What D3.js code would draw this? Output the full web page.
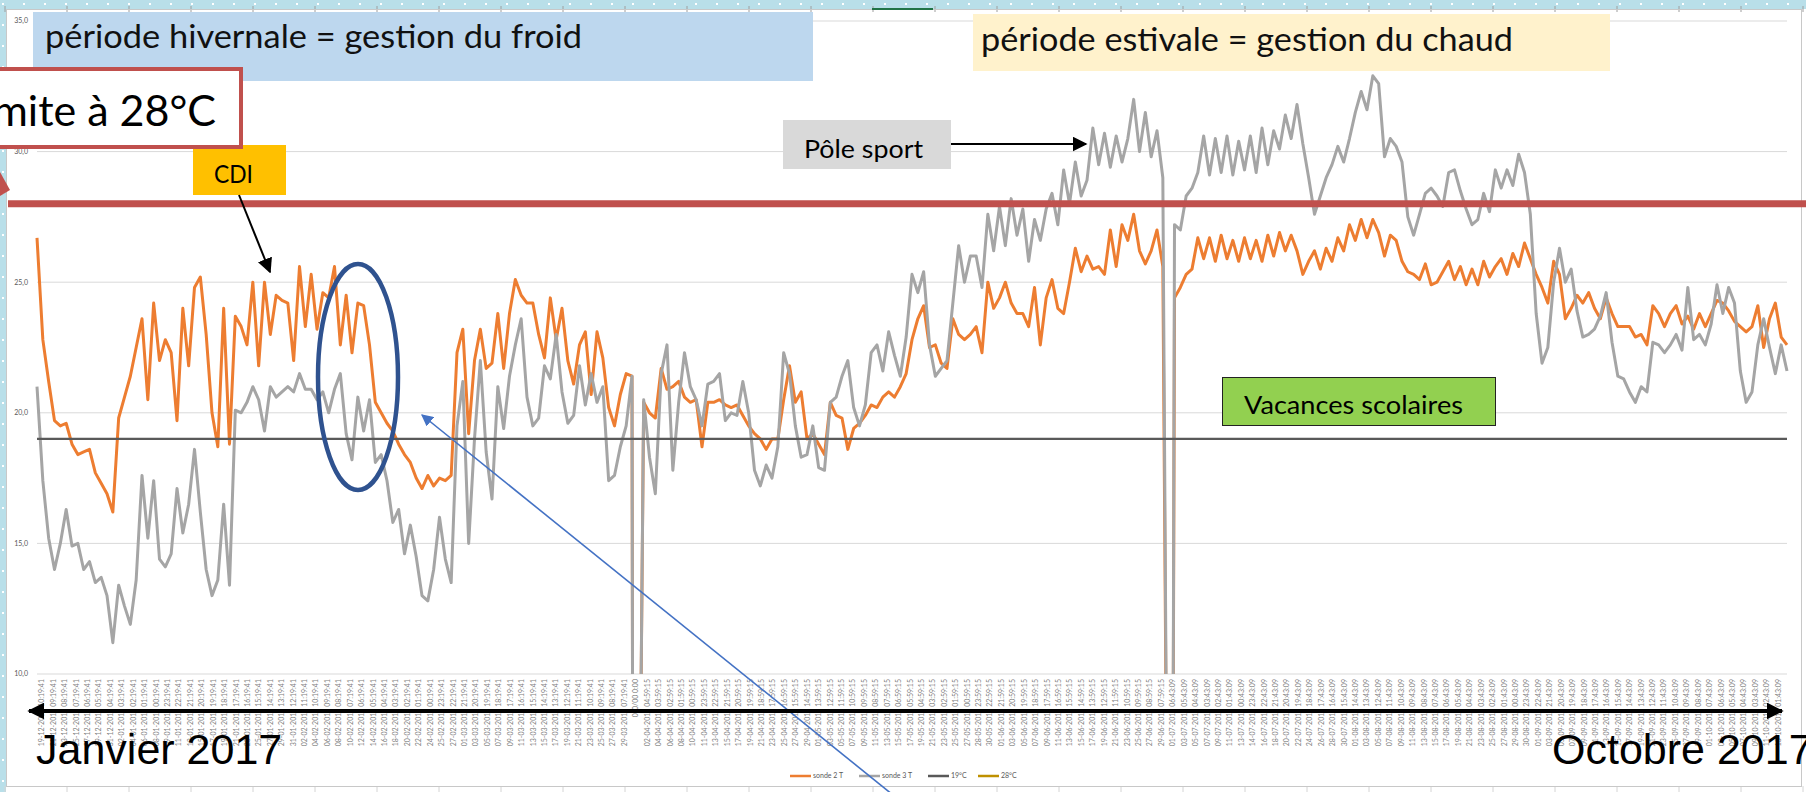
<!DOCTYPE html>
<html><head><meta charset="utf-8">
<script src="https://cdn.jsdelivr.net/npm/d3@7"></script>
<style>body{margin:0;background:#fff;}svg{display:block}</style>
</head><body>
<svg id="c" width="1806" height="792"></svg>
<script>
// ---------------- DATA ----------------
// one reading per day (24 h), null = logger gap (drop-out)
const sonde2 = [
26.7,22.8,21.2,19.7,19.5,19.6,18.8,18.4,18.5,18.6,
17.7,17.3,16.9,16.2,19.8,20.6,21.4,22.5,23.6,20.5,
24.2,22.0,22.8,22.3,19.7,24.0,21.8,24.8,25.2,23.0,
20.0,18.7,24.0,18.8,23.7,23.3,22.6,25.0,21.8,25.0,
23.0,24.5,24.3,24.2,22.0,25.6,23.3,25.3,23.2,24.6,
24.4,25.6,22.6,24.5,22.3,24.2,24.1,22.6,20.4,20.0,
19.6,19.3,18.8,18.4,18.1,17.5,17.1,17.6,17.2,17.5,
17.4,17.6,22.3,23.2,19.2,22.0,23.2,21.7,21.9,23.8,
21.7,23.8,25.1,24.5,24.2,24.2,23.0,22.1,24.4,22.8,
24.0,22.0,21.1,22.6,23.1,20.7,23.1,22.1,20.2,19.5,
20.7,21.5,21.4,null,20.4,20.0,19.8,21.7,20.9,21.0,
21.2,20.6,20.4,20.5,18.7,20.4,20.4,20.5,20.3,20.2,
20.3,19.9,19.5,19.2,19.0,18.6,19.0,19.0,20.5,21.8,
20.4,20.8,19.0,19.2,18.8,18.4,20.4,19.9,19.8,18.6,
19.4,19.6,19.9,20.3,20.2,20.6,20.8,20.6,21.0,21.5,
22.8,23.6,24.1,22.5,22.6,21.9,21.7,23.6,23.0,22.8,
23.0,23.3,22.3,25.0,24.0,24.4,25.0,24.2,23.8,23.8,
23.3,24.8,22.6,24.4,25.1,24.0,23.8,25.0,26.3,25.4,
26.0,25.5,25.6,25.3,27.0,25.6,27.2,26.6,27.6,26.2,
25.7,26.2,27.0,25.6,null,24.4,24.8,25.3,25.5,26.7,
25.9,26.7,25.8,26.8,25.9,26.6,25.8,26.7,25.9,26.6,
25.8,26.8,26.0,26.9,26.2,26.8,26.2,25.3,25.8,26.2,
25.5,26.3,25.8,26.7,26.2,27.2,26.6,27.4,26.7,27.4,
26.9,26.0,26.8,26.6,25.8,25.4,25.3,25.1,25.7,24.9,
25.0,25.4,25.8,25.1,25.6,24.9,25.5,24.9,25.8,25.2,
25.6,25.9,25.3,26.1,25.6,26.5,25.9,25.3,24.8,24.2,
25.8,25.3,23.6,24.0,24.5,24.2,24.6,24.0,23.6,24.4,
23.8,23.3,23.3,23.3,22.9,23.0,22.6,24.1,23.8,23.3,
23.8,24.1,23.4,23.7,23.2,23.8,23.3,23.8,24.3,24.2,
23.9,23.5,23.3,23.1,23.3,24.1,22.5,23.6,24.2,22.9,22.6
];
const sonde3 = [
21.0,17.4,15.2,14.0,15.0,16.3,14.9,15.0,14.0,14.3,
13.5,13.7,13.0,11.2,13.4,12.6,11.9,13.6,17.6,15.2,
17.4,14.4,14.1,14.6,17.1,15.4,16.5,18.6,16.2,14.0,
13.0,13.6,16.5,13.4,20.1,20.0,20.4,21.0,20.5,19.3,
21.0,20.6,20.8,21.0,20.8,21.5,20.9,20.9,20.5,20.8,
20.0,20.9,21.5,19.2,18.2,20.6,19.3,20.5,18.1,18.4,
17.4,15.8,16.3,14.6,15.7,14.5,13.0,12.8,14.0,16.0,
14.4,13.5,19.5,21.2,15.0,19.0,22.0,18.5,16.7,21.0,
19.4,21.4,22.6,23.6,20.6,19.5,19.8,21.8,21.3,23.0,
20.8,19.6,19.9,21.8,20.3,21.5,20.4,21.0,17.4,17.6,
18.7,19.5,21.4,null,20.5,18.3,16.9,21.5,22.6,17.8,
20.4,22.3,21.0,20.5,19.5,21.1,21.2,21.5,19.7,20.0,
19.9,21.2,20.0,17.8,17.2,18.0,17.5,18.7,22.3,21.5,
19.5,18.3,18.4,19.5,17.9,17.8,20.4,20.6,21.4,22.0,
20.2,19.5,20.3,22.3,22.6,21.6,23.1,22.2,21.4,22.9,
25.3,24.6,25.4,22.6,21.4,21.7,22.0,24.2,26.4,25.0,
26.0,26.0,24.8,27.6,26.2,27.9,26.4,28.2,26.8,27.8,
25.8,27.4,26.6,27.8,28.4,27.2,29.3,28.0,29.6,28.3,
28.9,30.9,29.5,30.7,29.4,30.6,29.6,30.5,32.0,30.0,
31.5,29.8,30.8,29.0,null,27.2,27.0,28.3,28.6,29.2,
30.6,29.1,30.5,29.2,30.6,29.1,30.4,29.3,30.6,29.2,
30.9,29.5,30.8,30.1,31.4,30.5,31.8,30.3,29.0,27.6,
28.3,29.0,29.5,30.2,29.6,30.5,31.5,32.3,31.6,32.9,
32.6,29.8,30.5,30.2,29.6,27.5,26.8,27.6,28.4,28.6,
28.3,27.9,29.2,29.3,28.5,27.8,27.2,27.4,28.4,27.7,
29.3,28.6,29.3,28.7,29.9,29.2,27.6,23.8,21.9,22.5,
25.0,26.3,25.0,25.5,23.9,22.9,23.0,23.2,23.7,24.6,
22.7,21.4,21.3,20.8,20.4,21.0,20.8,22.7,22.6,22.3,
22.6,23.0,22.4,24.8,22.8,23.0,22.6,23.4,24.9,23.8,
24.8,24.2,21.6,20.4,20.8,22.6,23.6,22.5,21.5,22.6,21.6
];
const sampleStepHours = 24;
const totalHours = 7200;
const dropouts = [[2452, 2476], [4652, 4672]];   // hours where the logger wrote 0
const thresholdNames = ["19°C", "28°C"];
const thresholdValues = [19, 28];
const seriesNames = ["sonde 2 T", "sonde 3 T"];
const yTicks = [10, 15, 20, 25, 30, 35];
const labelStepHours = 47, labelOffsetHours = 20;
const labelRunStarts = ["2016-12-19T10:19:41Z", null, "2017-04-02T04:59:15Z", "2017-07-01T06:43:09Z"];
const labelRunFirst  = [0, 52, 53, 99];
const labelRunLast   = [51, 52, 98, 152];
const blankLabel = "0/0/00 0:00";

// ---------------- STYLE ----------------
const colors = {"sonde 2 T":"#ED7D31","sonde 3 T":"#A5A5A5","19°C":"#595959","28°C":"#BF9000"};
const W = 1806, H = 792;
const plot = {left:37, right:1787, top:21, bottom:674};

const svg = d3.select("#c");
const x = d3.scaleLinear().domain([0, totalHours]).range([plot.left, plot.right]);
const y = d3.scaleLinear().domain([10, 35]).range([plot.bottom, plot.top]);

const defs = svg.append("defs");
const pat = defs.append("pattern").attr("id","dots").attr("width",21).attr("height",21).attr("patternUnits","userSpaceOnUse");
pat.append("rect").attr("width",21).attr("height",21).attr("fill","#B9DFE9");
pat.append("rect").attr("x",2).attr("y",3).attr("width",2).attr("height",2).attr("fill","#fff");
defs.append("clipPath").attr("id","plotclip").append("rect")
  .attr("x",plot.left-3).attr("y",plot.top-10).attr("width",plot.right-plot.left+6).attr("height",plot.bottom-plot.top+10);
function marker(id, color, size){
  defs.append("marker").attr("id",id).attr("viewBox","0 0 10 10").attr("refX",9).attr("refY",5)
    .attr("markerUnits","userSpaceOnUse").attr("markerWidth",size).attr("markerHeight",size)
    .attr("orient","auto-start-reverse")
    .append("path").attr("d","M0,0 L10,5 L0,10 Z").attr("fill",color);
}
marker("arrBlack","#000",15);
marker("arrBig","#000",17);
marker("arrBlue","#4472C4",12);

// background (spreadsheet look)
svg.append("rect").attr("width",W).attr("height",H).attr("fill","#fff");
svg.append("rect").attr("x",0).attr("y",0).attr("width",W).attr("height",9).attr("fill","url(#dots)");
svg.append("rect").attr("x",0).attr("y",0).attr("width",6).attr("height",H).attr("fill","url(#dots)");
const colsX = d3.range(0, 30).map(n => 5 + 62*n);
svg.append("g").selectAll("line").data(colsX).join("line")
  .attr("x1",d=>d).attr("x2",d=>d).attr("y1",786).attr("y2",H).attr("stroke","#D4D4D4");
svg.append("g").selectAll("line").data(colsX).join("line")
  .attr("x1",d=>d).attr("x2",d=>d).attr("y1",6).attr("y2",12).attr("stroke","#9E9E9E");
svg.append("rect").attr("x",6.5).attr("y",9.5).attr("width",1795).attr("height",777)
  .attr("fill","none").attr("stroke","#C8C8C8");
svg.append("line").attr("x1",872).attr("x2",933).attr("y1",9).attr("y2",9).attr("stroke","#217346").attr("stroke-width",2);

// gridlines
svg.append("g").selectAll("line").data(yTicks).join("line")
  .attr("x1",plot.left).attr("x2",plot.right).attr("y1",d=>y(d)).attr("y2",d=>y(d))
  .attr("stroke","#D9D9D9").attr("stroke-width",1);
svg.append("g").selectAll("text").data(yTicks).join("text")
  .attr("x",28).attr("y",d=>y(d)).attr("dy","0.35em").attr("text-anchor","end")
  .attr("font-family","Lato").attr("font-size",7).attr("fill","#595959")
  .text(d => d3.format(".1f")(d).replace(".", ","));

// series
function buildPoints(values){
  const pts = [];
  values.forEach((v,i) => { if (v !== null) pts.push({h:i*sampleStepHours, v}); });
  dropouts.forEach(([a,b]) => { pts.push({h:a, v:0}); pts.push({h:b, v:0}); });
  pts.sort((p,q) => p.h - q.h);
  return pts;
}
const line = d3.line().x(d => x(d.h)).y(d => y(d.v));
const gSeries = svg.append("g").attr("clip-path","url(#plotclip)");
[sonde2, sonde3].forEach((vals, k) => {
  gSeries.append("path").attr("d", line(buildPoints(vals)))
    .attr("fill","none").attr("stroke",colors[seriesNames[k]]).attr("stroke-width",3)
    .attr("stroke-linejoin","round");
});
thresholdValues.forEach((v,k) => {
  gSeries.append("path").attr("d", line([{h:0,v},{h:totalHours,v}]))
    .attr("stroke",colors[thresholdNames[k]]).attr("stroke-width",2.4).attr("fill","none");
});

// x labels
const fmt = d3.utcFormat("%d-%m-%Y %H:%M:%S");
const xLabels = [];
labelRunStarts.forEach((s, r) => {
  for (let k = labelRunFirst[r]; k <= labelRunLast[r]; k++) {
    const txt = s === null ? blankLabel : fmt(new Date(Date.parse(s) + (k - labelRunFirst[r]) * labelStepHours * 3600e3));
    xLabels.push({k, txt});
  }
});
svg.append("g").selectAll("text").data(xLabels).join("text")
  .attr("transform", d => `translate(${x(labelOffsetHours + d.k*labelStepHours)},679) rotate(-90)`)
  .attr("dy","0.35em").attr("text-anchor","end")
  .attr("font-family","Lato").attr("font-size",7).attr("fill","#7F7F7F")
  .text(d => d.txt);

// legend
const legendNames = seriesNames.concat(thresholdNames);
const legendX = [790, 859, 928, 978];
const lg = svg.append("g").selectAll("g").data(legendNames).join("g")
  .attr("transform",(d,i)=>`translate(${legendX[i]},776)`);
lg.append("line").attr("x1",0).attr("x2",21).attr("stroke",d=>colors[d]).attr("stroke-width",2.5);
lg.append("text").attr("x",23).attr("dy","0.35em").attr("font-family","Lato").attr("font-size",7)
  .attr("fill","#595959").text(d=>d);

// ---------------- annotations ----------------
svg.append("rect").attr("x",33).attr("y",12).attr("width",780).attr("height",69).attr("fill","#BDD7EE");
svg.append("text").attr("x",45).attr("y",48).attr("font-family","Lato").attr("font-size",32)
  .attr("textLength",537).attr("lengthAdjust","spacingAndGlyphs").attr("fill","#111")
  .text("période hivernale = gestion du froid");
svg.append("rect").attr("x",973).attr("y",14).attr("width",637).attr("height",57).attr("fill","#FFF2CC");
svg.append("text").attr("x",981).attr("y",51).attr("font-family","Lato").attr("font-size",32)
  .attr("textLength",532).attr("lengthAdjust","spacingAndGlyphs").attr("fill","#111")
  .text("période estivale = gestion du chaud");

svg.append("rect").attr("x",193).attr("y",145).attr("width",93).attr("height",50).attr("fill","#FFC000");
svg.append("text").attr("x",214).attr("y",183).attr("font-family","Lato").attr("font-size",25)
  .attr("textLength",39).attr("lengthAdjust","spacingAndGlyphs").text("CDI");

svg.append("rect").attr("x",-10).attr("y",69).attr("width",251).attr("height",78)
  .attr("fill","#fff").attr("stroke","#C0504D").attr("stroke-width",4);
svg.append("text").attr("x",216).attr("y",126).attr("text-anchor","end").attr("font-family","Lato")
  .attr("font-size",43).text("Limite à 28°C");

svg.append("rect").attr("x",783).attr("y",120).attr("width",168).attr("height",49).attr("fill","#D9D9D9");
svg.append("text").attr("x",804).attr("y",158).attr("font-family","Lato").attr("font-size",25)
  .attr("textLength",119).attr("lengthAdjust","spacingAndGlyphs").text("Pôle sport");

svg.append("rect").attr("x",1222.5).attr("y",377.5).attr("width",273).attr("height",48)
  .attr("fill","#92D050").attr("stroke","#222").attr("stroke-width",1);
svg.append("text").attr("x",1244).attr("y",414).attr("font-family","Lato").attr("font-size",25)
  .attr("textLength",219).attr("lengthAdjust","spacingAndGlyphs").text("Vacances scolaires");

// red 28°C limit bar
svg.append("line").attr("x1",8).attr("x2",W).attr("y1",y(28)).attr("y2",y(28))
  .attr("stroke","#C0504D").attr("stroke-width",7);
svg.append("path").attr("d","M0,172 L10,190 L0,196 Z").attr("fill","#C0504D");

// arrows
svg.append("line").attr("x1",239).attr("y1",195).attr("x2",270).attr("y2",272)
  .attr("stroke","#000").attr("stroke-width",2).attr("marker-end","url(#arrBlack)");
svg.append("line").attr("x1",951).attr("y1",144).attr("x2",1086).attr("y2",144)
  .attr("stroke","#000").attr("stroke-width",2).attr("marker-end","url(#arrBlack)");
svg.append("ellipse").attr("cx",358).attr("cy",377).attr("rx",40).attr("ry",113)
  .attr("fill","none").attr("stroke","#2F528F").attr("stroke-width",4.5);
svg.append("line").attr("x1",893).attr("y1",795).attr("x2",422).attr("y2",415)
  .attr("stroke","#4472C4").attr("stroke-width",1.6).attr("marker-end","url(#arrBlue)");

svg.append("line").attr("x1",29).attr("y1",711).attr("x2",1782).attr("y2",711)
  .attr("stroke","#000").attr("stroke-width",4)
  .attr("marker-start","url(#arrBig)").attr("marker-end","url(#arrBig)");
svg.append("text").attr("x",36).attr("y",764).attr("font-family","Liberation Sans, Arial")
  .attr("font-size",43).text("Janvier 2017");
svg.append("text").attr("x",1552).attr("y",764).attr("font-family","Liberation Sans, Arial")
  .attr("font-size",43).text("Octobre 2017");
</script>
</body></html>
